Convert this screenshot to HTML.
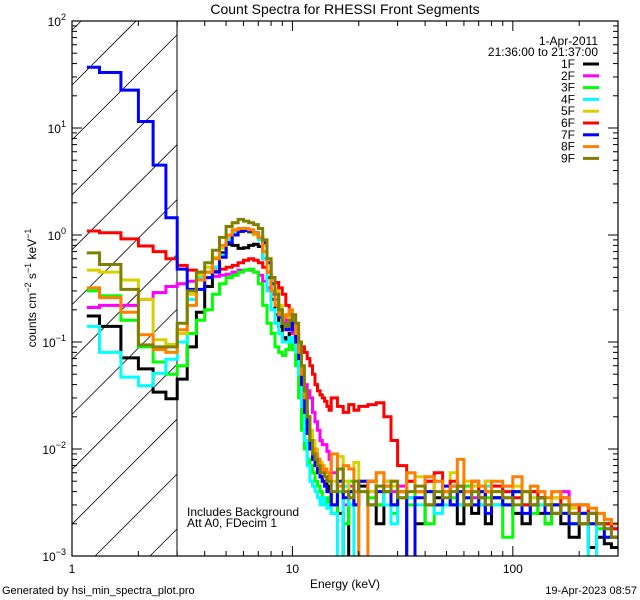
<!DOCTYPE html>
<html><head><meta charset="utf-8"><style>
html,body{margin:0;padding:0;width:640px;height:600px;overflow:hidden;background:#fff;}
svg{display:block;font-family:"Liberation Sans",sans-serif;}
</style></head><body>
<svg id="chart" width="640" height="600" viewBox="0 0 640 600">
<defs>
<clipPath id="plotclip"><rect x="72" y="21" width="546" height="535"/></clipPath>
</defs>
<text x="345" y="14" text-anchor="middle" font-size="14">Count Spectra for RHESSI Front Segments</text>
<g id="hatch"></g>
<line x1="177" y1="21" x2="177" y2="556" stroke="#000" stroke-width="1"/>
<g id="series" clip-path="url(#plotclip)"></g>
<rect x="72" y="21" width="546" height="535" fill="none" stroke="#000" stroke-width="1.2"/>
<g id="axes"></g>
<text transform="translate(36,288) rotate(-90)" text-anchor="middle" font-size="12">counts cm<tspan dy="-5" font-size="9">−2</tspan><tspan dy="5"> s</tspan><tspan dy="-5" font-size="9">−1</tspan><tspan dy="5"> keV</tspan><tspan dy="-5" font-size="9">−1</tspan></text>
<text x="345" y="588" text-anchor="middle" font-size="12">Energy (keV)</text>
<text x="2" y="594" font-size="11">Generated by hsi_min_spectra_plot.pro</text>
<text x="637" y="594" text-anchor="end" font-size="11">19-Apr-2023 08:57</text>
<text x="187" y="516" font-size="12">Includes Background</text>
<text x="187" y="527" font-size="12">Att A0, FDecim 1</text>
<text x="598" y="45" text-anchor="end" font-size="12">1-Apr-2011</text>
<text x="598" y="56" text-anchor="end" font-size="12">21:36:00 to 21:37:00</text>
<g id="legend"></g>
</svg>
<script>
const edges = [1.1667,1.3333,1.6667,2,2.3333,2.6667,3,
3.333,3.667,4,4.333,4.667,5,5.333,5.667,6,6.333,6.667,7,7.333,7.667,8,8.333,8.667,9,9.333,9.667,10,10.333,10.667,11,11.333,11.667,12,12.333,12.667,13,13.333,13.667,14,14.333,14.667,15,
16,17,18,19,20,22,24,26,28,30,33,36,40,44,48,52,56,60,65,70,75,80,90,100,110,120,130,140,150,165,180,200,220,240,260,280,300];
const seriesNames = ["1F","2F","3F","4F","5F","6F","7F","8F","9F"];
const seriesColors = ["#000000","#ff00ff","#00ff00","#00ffff","#d8d000","#ff0000","#0000ff","#ff8000","#808000"];
const s1F = [.175,.14,.071,.056,.034,.0295,
.045,.09,.19,.33,.5,.68,.82,.8,.75,.76,.8,.82,.78,.6,.4,.25,.18,.14,.11,.1,.12,.13,.1,.07,.04,.022,.014,.01,.008,.007,.006,.0055,.005,.005,.0045,.004,
.003,.0025,.0008,.004,.003,.0045,.005,.002,.004,.003,.004,.0008,.002,.003,.0035,.004,.003,.002,.003,.0025,.003,.002,.0035,.003,.0025,.002,.003,.0025,.002,.0025,.002,.0015,.002,.0012,.0015,.0013,.0012];
const s2F = [.21,.22,.22,.25,.29,.33,
.35,.37,.38,.40,.41,.42,.43,.45,.47,.47,.47,.45,.42,.37,.32,.28,.25,.20,.17,.16,.14,.12,.09,.07,.05,.04,.035,.03,.022,.018,.015,.012,.011,.011,.0095,.008,
.006,.004,.003,.0045,.004,.005,.004,.003,.005,.004,.0045,.0035,.004,.005,.003,.004,.0045,.003,.004,.0035,.004,.005,.003,.0045,.004,.003,.004,.0035,.003,.0035,.004,.003,.0025,.0025,.002,.002,.0018];
const s3F = [.30,.27,.16,.09,.065,.05,
.06,.12,.16,.20,.28,.35,.40,.42,.45,.47,.48,.45,.35,.22,.15,.12,.09,.08,.075,.085,.10,.085,.06,.03,.015,.01,.008,.007,.006,.005,.0045,.004,.0035,.003,.0035,.003,
.0025,.004,.002,.005,.003,.004,.0035,.003,.004,.0025,.0035,.003,.004,.002,.003,.004,.0035,.003,.0045,.003,.004,.0035,.003,.0015,.004,.003,.0025,.003,.002,.003,.0025,.002,.0025,.002,.0018,.0015,.0015];
const s4F = [.14,.08,.047,.039,.051,.069,
.10,.25,.40,.45,.50,.65,.90,1.05,1.08,1.1,1.05,1.0,.9,.6,.3,.2,.15,.12,.10,.10,.11,.10,.08,.05,.025,.012,.007,.005,.0045,.004,.0035,.003,.0035,.003,.0028,.003,
.0025,.0008,.0045,.003,.0008,.004,.003,.0045,.003,.002,.004,.0035,.003,.004,.0025,.003,.004,.003,.0035,.004,.003,.0045,.003,.0035,.004,.003,.0035,.003,.0025,.003,.0025,.002,.0025,.0009,.002,.0018,.0015];
const s5F = [.47,.45,.38,.25,.105,.095,
.12,.28,.42,.50,.62,.75,.95,1.1,1.12,1.1,1.05,1.0,.95,.8,.55,.4,.3,.22,.18,.17,.18,.17,.12,.08,.05,.03,.02,.015,.012,.01,.008,.0075,.007,.006,.006,.0055,
.005,.0085,.005,.004,.0075,.005,.004,.006,.005,.0045,.004,.005,.0055,.004,.005,.0045,.006,.004,.005,.0045,.004,.005,.004,.0035,.0045,.004,.0035,.004,.003,.0035,.003,.0028,.003,.0025,.0025,.002,.002];
const s6F = [1.09,1.05,.92,.79,.70,.60,
.52,.47,.45,.45,.46,.48,.50,.52,.55,.58,.60,.58,.55,.50,.45,.40,.36,.32,.28,.22,.18,.15,.12,.10,.09,.08,.07,.06,.05,.04,.035,.032,.030,.028,.025,.023,
.03,.025,.022,.026,.023,.025,.026,.027,.02,.012,.007,.005,.004,.005,.006,.004,.005,.0045,.004,.005,.0035,.004,.0045,.004,.0035,.003,.004,.0035,.003,.003,.0035,.0025,.003,.0025,.002,.002,.0018];
const s7F = [37,33,22.6,11.5,4.5,1.45,
.48,.31,.31,.40,.45,.62,.85,1.0,1.08,1.1,1.08,1.05,.95,.85,.55,.35,.22,.17,.15,.13,.15,.13,.1,.07,.04,.022,.014,.01,.008,.007,.006,.0055,.005,.0045,.004,.004,
.003,.005,.0035,.004,.003,.005,.003,.004,.0045,.003,.004,.0009,.0035,.004,.003,.0045,.003,.004,.0035,.003,.004,.0025,.0035,.003,.004,.0025,.003,.0035,.0025,.003,.0025,.002,.0025,.002,.002,.0015,.0015];
const s8F = [.32,.26,.19,.117,.085,.08,
.13,.22,.38,.45,.60,.80,1.0,1.12,1.15,1.15,1.12,1.05,.95,.7,.45,.3,.22,.18,.17,.18,.2,.18,.12,.08,.05,.03,.02,.012,.01,.009,.008,.007,.006,.0065,.006,.005,
.009,.0045,.007,.0065,.004,.0008,.005,.006,.0045,.005,.004,.006,.004,.0055,.005,.004,.0045,.008,.004,.005,.0045,.004,.005,.0045,.0055,.004,.0045,.004,.0035,.004,.0035,.003,.003,.0028,.0025,.0022,.002];
const s9F = [.68,.53,.31,.094,.09,.09,
.15,.30,.45,.55,.72,.95,1.2,1.3,1.4,1.35,1.3,1.25,1.15,.9,.6,.4,.28,.2,.15,.14,.16,.18,.15,.10,.06,.035,.02,.012,.009,.008,.007,.006,.006,.0055,.005,.005,
.004,.0065,.004,.0035,.005,.004,.003,.0045,.004,.005,.0035,.004,.0045,.003,.004,.0035,.004,.0045,.003,.004,.0035,.003,.004,.0035,.003,.004,.003,.0035,.003,.0025,.003,.0025,.002,.0025,.002,.0018,.0015];
const seriesValues = [s1F,s2F,s3F,s4F,s5F,s6F,s7F,s8F,s9F];
const yTickExps = [-3,-2,-1,0,1,2];
const xTickLabels = [1,10,100];

const NS="http://www.w3.org/2000/svg";
const X0=72,X1=618,Y0=21,Y1=556,XMIN=1,XMAX=300,YMIN=-3,YMAX=2;
function xs(e){return X0+(Math.log10(e)-Math.log10(XMIN))/(Math.log10(XMAX)-Math.log10(XMIN))*(X1-X0);}
function ys(v){const l=Math.log10(Math.max(v,1e-5));const y=Y0+(YMAX-l)/(YMAX-YMIN)*(Y1-Y0);return Math.min(Math.max(y,Y0-4),Y1+4);}
function mk(tag,attrs,parent){const el=document.createElementNS(NS,tag);for(const k in attrs)el.setAttribute(k,attrs[k]);parent.appendChild(el);return el;}

// hatch lines clipped analytically to the box x:[72,177], y:[21,556], slope -1
const hatch=document.getElementById('hatch');
const HX0=72,HX1=177;
for(let k=-3;k<12;k++){
  const c=85+54.9*k; // y at x=72 ; y = c-(x-72)
  let xa=HX0,ya=c,xb=HX1,yb=c-(HX1-HX0);
  if(ya>Y1){xa=HX0+(ya-Y1);ya=Y1;}
  if(yb<Y0){xb=HX0+(c-Y0);yb=Y0;}
  if(xa>=xb)continue;
  const l=mk('line',{x1:xa.toFixed(1),y1:ya.toFixed(1),x2:xb.toFixed(1),y2:yb.toFixed(1),stroke:'#000','stroke-width':0.8},hatch);
  
  
}

const sg=document.getElementById('series');
seriesValues.forEach((vals,i)=>{
  const n=Math.min(vals.length,edges.length-1);
  let d='';
  for(let j=0;j<n;j++){
    const xa=xs(edges[j]).toFixed(1),xb=xs(edges[j+1]).toFixed(1),y=ys(vals[j]).toFixed(1);
    d+=(j===0?'M':'L')+xa+','+y+'L'+xb+','+y;
  }
  const p=mk('path',{d:d,fill:'none',stroke:seriesColors[i],'stroke-width':3,'stroke-linejoin':'miter'},sg);
  
  
});

const ax=document.getElementById('axes');
for(let e=YMIN;e<=YMAX;e++){
  for(let m=1;m<10;m++){
    if(e===YMAX&&m>1)break;
    const y=ys(m*Math.pow(10,e));
    const len=m===1?10:5;
    const t1=mk('line',{x1:X0,y1:y,x2:X0+len,y2:y,stroke:'#000'},ax);
    
    
    const t2=mk('line',{x1:X1,y1:y,x2:X1-len,y2:y,stroke:'#000'},ax);
    
    
  }
}
yTickExps.forEach(e=>{
  const y=ys(Math.pow(10,e));
  const t=mk('text',{x:66,y:y+5,'text-anchor':'end','font-size':12},ax);
  
  
  t.innerHTML='10<tspan dy="-6" font-size="9">'+(e<0?'−'+(-e):e)+'</tspan>';
});
for(let e=0;e<=2;e++){
  for(let m=1;m<10;m++){
    const v=m*Math.pow(10,e);
    if(v>XMAX)break;
    const x=xs(v);
    const len=m===1?10:5;
    const t1=mk('line',{x1:x,y1:Y1,x2:x,y2:Y1-len,stroke:'#000'},ax);
    
    
    const t2=mk('line',{x1:x,y1:Y0,x2:x,y2:Y0+len,stroke:'#000'},ax);
    
    
  }
}
xTickLabels.forEach(v=>{
  const t=mk('text',{x:xs(v),y:573,'text-anchor':'middle','font-size':12},ax);
  
  
  t.textContent=String(v);
});

const lg=document.getElementById('legend');
seriesNames.forEach((nm,i)=>{
  const y=64+11.8*i;
  const t=mk('text',{x:575,y:y+4,'text-anchor':'end','font-size':12},lg);
  
  
  t.textContent=nm;
  const l=mk('line',{x1:583,y1:y,x2:599,y2:y,stroke:seriesColors[i],'stroke-width':3},lg);
  
  
});
</script>
</body></html>
